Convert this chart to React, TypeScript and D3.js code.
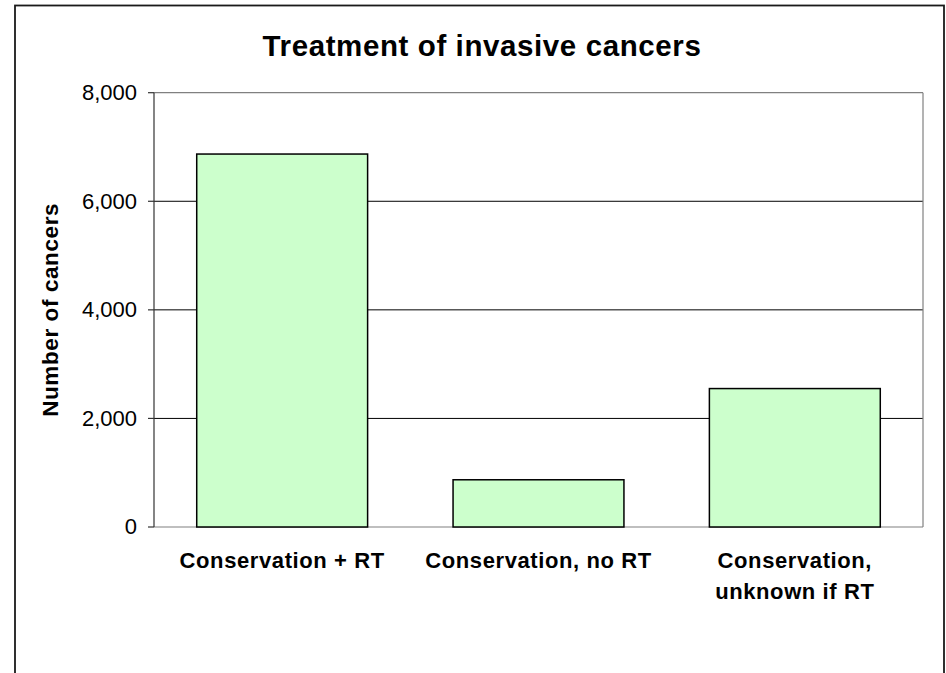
import React from "react";
import * as d3 from "d3";

const categories: string[][] = [
  ["Conservation + RT"],
  ["Conservation, no RT"],
  ["Conservation,", "unknown if RT"],
];
const values: number[] = [6870, 870, 2550];
const yTicks: number[] = [0, 2000, 4000, 6000, 8000];
const title = "Treatment of invasive cancers";
const yTitle = "Number of cancers";

const W = 946;
const H = 673;
const plot = { left: 154, right: 923, top: 92.7, bottom: 527 };
const FONT = "Arial, 'Liberation Sans', sans-serif";

export default function App() {
  const x = d3
    .scaleBand<number>()
    .domain(values.map((_, i) => i))
    .range([plot.left, plot.right])
    .paddingInner(1 / 3)
    .paddingOuter(1 / 6);
  const y = d3.scaleLinear().domain([0, 8000]).range([plot.bottom, plot.top]);
  const fmt = d3.format(",");

  return (
    <div style={{ position: "absolute", left: 0, top: 0 }}>
      <svg width={W} height={H} style={{ display: "block" }}>
        <rect x={0} y={0} width={W} height={H} fill="#fff" />
        <rect x={15} y={5.5} width={929} height={700} fill="none" stroke="#1a1a1a" strokeWidth={1.8} />
        <text
          x={482}
          y={56}
          textAnchor="middle"
          fontFamily={FONT}
          fontWeight="bold"
          fontSize={29.5}
          letterSpacing={0.6}
          fill="#000"
        >
          {title}
        </text>
        {/* gridlines */}
        {yTicks.filter((t) => t > 0 && t < 8000).map((t) => (
          <line key={t} x1={plot.left} x2={plot.right} y1={y(t)} y2={y(t)} stroke="#000" strokeWidth={1} />
        ))}
        {/* plot border */}
        <line x1={plot.left} x2={plot.right} y1={plot.top} y2={plot.top} stroke="#808080" strokeWidth={1.2} />
        <line x1={plot.right} x2={plot.right} y1={plot.top} y2={plot.bottom} stroke="#808080" strokeWidth={1.2} />
        <line x1={plot.left} x2={plot.right} y1={plot.bottom} y2={plot.bottom} stroke="#808080" strokeWidth={1.2} />
        {/* bars */}
        {values.map((v, i) => (
          <rect
            key={i}
            x={x(i)}
            y={y(v)}
            width={x.bandwidth()}
            height={y(0) - y(v)}
            fill="#CCFFCC"
            stroke="#000"
            strokeWidth={1.5}
          />
        ))}
        {/* y axis */}
        <line x1={plot.left} x2={plot.left} y1={plot.top} y2={plot.bottom} stroke="#333" strokeWidth={1.2} />
        {yTicks.map((t) => (
          <g key={t}>
            <line x1={148} x2={plot.left} y1={y(t)} y2={y(t)} stroke="#333" strokeWidth={1.2} />
            <text
              x={137}
              y={y(t)}
              dy="0.34em"
              textAnchor="end"
              fontFamily={FONT}
              fontSize={22}
              fill="#000"
            >
              {fmt(t)}
            </text>
          </g>
        ))}
        {/* x labels */}
        {categories.map((lines, i) => (
          <text
            key={i}
            x={(x(i) as number) + x.bandwidth() / 2}
            y={567.5}
            textAnchor="middle"
            fontFamily={FONT}
            fontWeight="bold"
            fontSize={22}
            letterSpacing={0.6}
            fill="#000"
          >
            {lines.map((l, j) => (
              <tspan key={j} x={(x(i) as number) + x.bandwidth() / 2} dy={j === 0 ? 0 : 31.5}>
                {l}
              </tspan>
            ))}
          </text>
        ))}
        <text
          transform={`translate(57.5, ${(plot.top + plot.bottom) / 2}) rotate(-90)`}
          textAnchor="middle"
          fontFamily={FONT}
          fontWeight="bold"
          fontSize={22.5}
          letterSpacing={0.6}
          fill="#000"
        >
          {yTitle}
        </text>
      </svg>
    </div>
  );
}
